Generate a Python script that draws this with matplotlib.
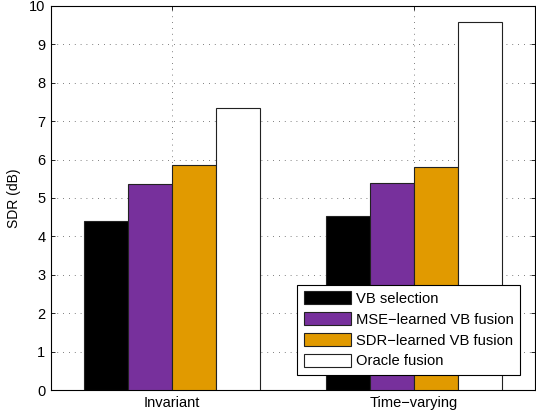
import numpy as np
import matplotlib
matplotlib.use('Agg')
from matplotlib import pyplot as plt

plt.rcParams['font.family'] = ['Liberation Sans', 'DejaVu Sans']

# data
groups = ['Invariant', 'Time\u2212varying']
series = ['VB selection', 'MSE\u2212learned VB fusion', 'SDR\u2212learned VB fusion', 'Oracle fusion']
vb_selection = [4.39, 4.52]
mse_fusion = [5.36, 5.38]
sdr_fusion = [5.87, 5.82]
oracle_fusion = [7.34, 9.58]
values = [vb_selection, mse_fusion, sdr_fusion, oracle_fusion]
colors = ['#000000', '#77309C', '#E19A00', '#FFFFFF']
yticks = list(range(0, 11))

fig = plt.figure(figsize=(5.36, 4.17), dpi=100)
ax = fig.add_axes([51 / 536, 27 / 417, 484 / 536, 384 / 417])

x = np.arange(1, len(groups) + 1)
w = 0.182
for i, (vals, name, c) in enumerate(zip(values, series, colors)):
    ax.bar(x + (i - 1.5) * w, vals, w, color=c, edgecolor='#222222',
           linewidth=0.8, label=name, zorder=3)

ax.set_xlim(0.5, 2.5)
ax.set_ylim(0, 10)
ax.set_yticks(yticks)
ax.set_xticks(x)
ax.set_xticklabels(groups)
ax.set_ylabel('SDR (dB)', fontsize=10, labelpad=6)
ax.tick_params(labelsize=10.5, direction='in', length=3, width=0.6,
               right=True, top=True, pad=4)
ax.grid(True, linestyle=(0, (1, 6)), color='#555555', linewidth=0.6, zorder=1)
for s in ax.spines.values():
    s.set_linewidth(0.8)

leg = ax.legend(loc='lower right', bbox_to_anchor=(1 - 15 / 484, 15 / 384),
                fontsize=10.6, fancybox=False, framealpha=1, edgecolor='black',
                handlelength=3.2, handleheight=1.0, borderpad=0.45,
                labelspacing=0.42, handletextpad=0.3, borderaxespad=0)
leg.get_frame().set_linewidth(0.8)

fig.savefig('out.png', dpi=100)
